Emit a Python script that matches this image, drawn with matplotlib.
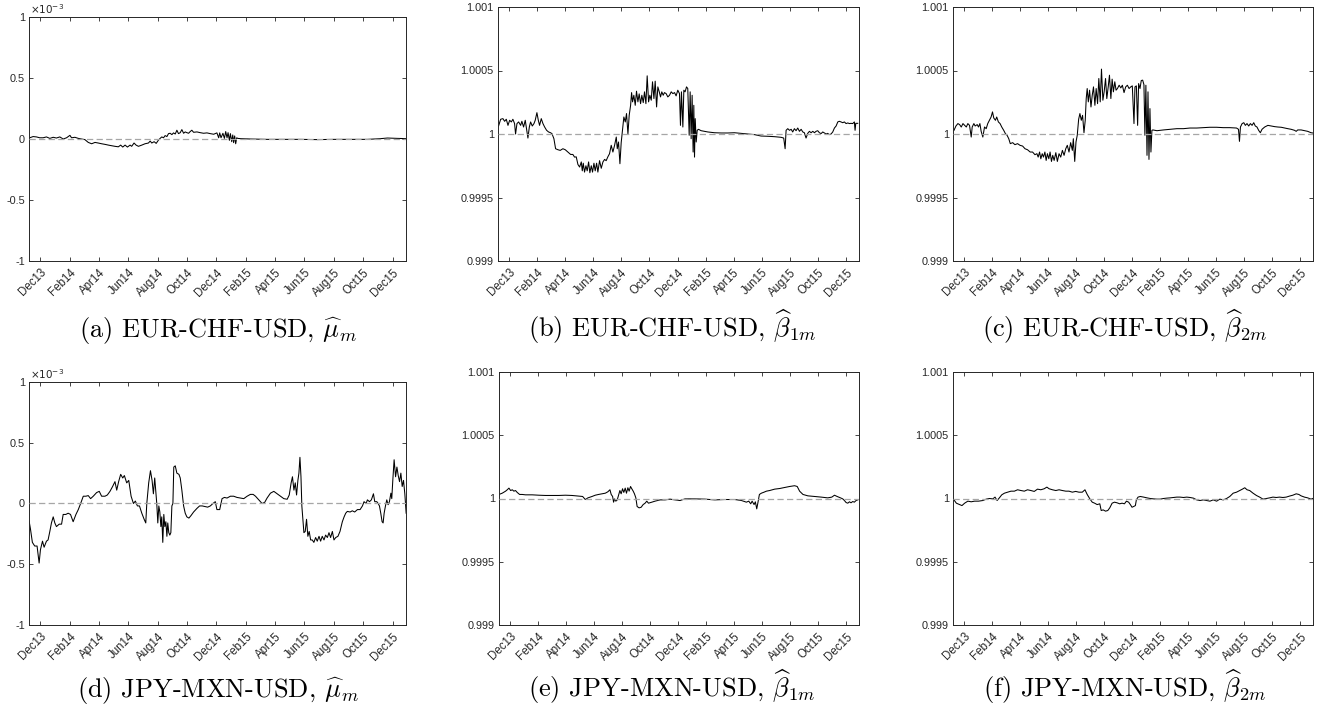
import numpy as np
import matplotlib
matplotlib.use('Agg')
import matplotlib.pyplot as plt

plt.rcParams['font.family'] = ['Liberation Sans', 'DejaVu Sans']
plt.rcParams['mathtext.fontset'] = 'cm'
plt.rcParams['lines.scale_dashes'] = False

# time axis: months counted from 1 Dec 2013
month_ticks = [0, 2, 4, 6, 8, 10, 12, 14, 16, 18, 20, 22, 24]
month_labels = ['Dec13', 'Feb14', 'Apr14', 'Jun14', 'Aug14', 'Oct14', 'Dec14',
                'Feb15', 'Apr15', 'Jun15', 'Aug15', 'Oct15', 'Dec15']

# mu estimates, in units of 1e-3
mu_eur_t = [-0.73, -0.50, -0.27, -0.05, 0.18, 0.41, 0.64, 0.87, 1.09, 1.32, 1.55, 1.78, 2.01, 2.12, 2.35,
            2.58, 2.80, 3.03, 3.26, 3.49, 3.72, 3.94, 4.17, 4.40, 4.63, 4.85, 5.08, 5.31, 5.47, 5.61,
            5.77, 5.93, 6.11, 6.22, 6.38, 6.52, 6.68, 6.91, 7.13, 7.36, 7.48, 7.59, 7.75, 7.89, 8.05,
            8.16, 8.27, 8.39, 8.50, 8.62, 8.73, 8.84, 8.96, 9.07, 9.19, 9.30, 9.41, 9.53, 9.64, 9.76,
            9.87, 9.98, 10.10, 10.21, 10.32, 10.44, 10.67, 10.89, 11.12, 11.35, 11.58, 11.81, 12.03,
            12.15, 12.22, 12.31, 12.44, 12.54, 12.63, 12.72, 12.79, 12.88, 12.95, 13.04, 13.11, 13.17,
            13.24, 13.31, 13.38, 13.45, 13.63, 14.31, 15.45, 16.59, 17.73, 18.87, 20.01, 21.15, 22.29,
            23.20, 23.66, 24.34, 24.93]
mu_eur_v = [0.01, 0.02, 0.017, 0.01, 0.01, 0.017, 0.005, 0.014, 0.008, 0.017, 0, 0.01, 0.03, 0.01, 0.014,
            0.005, 0, -0.005, -0.028, -0.039, -0.028, -0.033, -0.039, -0.044, -0.05, -0.055, -0.06, -0.064,
            -0.05, -0.066, -0.05, -0.066, -0.05, -0.06, -0.033, -0.05, -0.06, -0.05, -0.039, -0.033,
            -0.017, -0.033, -0.022, -0.036, -0.008, 0.005, 0.017, 0.01, 0.028, 0.02, 0.044, 0.047,
            0.036, 0.05, 0.041, 0.072, 0.044, 0.052, 0.077, 0.047, 0.058, 0.052, 0.047, 0.061, 0.072,
            0.055, 0.058, 0.052, 0.047, 0.05, 0.044, 0.039, 0.05, 0.01, 0.05, 0.01, 0.047, 0.005, 0.061,
            0.01, 0.052, -0.011, 0.044, -0.022, 0.033, -0.03, 0.025, -0.039, 0.01, 0.005, 0.003, 0,
            -0.003, -0.003, -0.003, -0.005, -0.003, -0.003, -0.003, 0.003, 0.008, 0.005, 0.003]

mu_jpy_t = [-0.77, -0.68, -0.55, -0.39, -0.23, -0.09, 0, 0.14, 0.25, 0.41, 0.52, 0.64, 0.75, 0.87, 0.98,
            1.09, 1.28, 1.44, 1.55, 1.73, 1.89, 2.05, 2.23, 2.42, 2.58, 2.74, 2.92, 3.10, 3.26, 3.42,
            3.60, 3.83, 4.01, 4.17, 4.40, 4.56, 4.74, 4.92, 5.08, 5.20, 5.33, 5.47, 5.61, 5.72, 5.88,
            6.02, 6.18, 6.34, 6.47, 6.61, 6.75, 6.91, 7.07, 7.18, 7.25, 7.38, 7.50, 7.61, 7.70, 7.79,
            7.86, 7.93, 8.00, 8.07, 8.14, 8.21, 8.27, 8.34, 8.41, 8.48, 8.55, 8.62, 8.68, 8.75, 8.82,
            8.89, 8.96, 9.03, 9.09, 9.19, 9.30, 9.44, 9.53, 9.64, 9.76, 9.87, 9.98, 10.12, 10.26, 10.44,
            10.67, 10.85, 11.03, 11.21, 11.40, 11.58, 11.76, 11.92, 12.03, 12.22, 12.38, 12.54, 12.72,
            12.95, 13.17, 13.40, 13.63, 13.86, 14.09, 14.31, 14.50, 14.66, 14.88, 15.11, 15.29, 15.45,
            15.68, 15.91, 16.14, 16.36, 16.59, 16.82, 16.96, 17.09, 17.18, 17.28, 17.37, 17.46, 17.55,
            17.62, 17.69, 17.76, 17.82, 17.89, 17.96, 18.05, 18.14, 18.23, 18.32, 18.42, 18.53, 18.64,
            18.76, 18.87, 18.99, 19.10, 19.21, 19.33, 19.44, 19.56, 19.67, 19.78, 19.90, 20.01, 20.13,
            20.28, 20.42, 20.58, 20.70, 20.81, 20.92, 21.11, 21.26, 21.42, 21.61, 21.79, 21.95, 22.06,
            22.20, 22.29, 22.43, 22.56, 22.70, 22.79, 22.93, 23.02, 23.11, 23.20, 23.29, 23.36, 23.43,
            23.52, 23.61, 23.70, 23.79, 23.89, 23.95, 24.02, 24.11, 24.21, 24.30, 24.39, 24.48, 24.57,
            24.66, 24.75, 24.84, 24.93]
mu_jpy_v = [-0.147, -0.21, -0.32, -0.35, -0.35, -0.49, -0.38, -0.31, -0.36, -0.31, -0.30, -0.23, -0.16,
            -0.11, -0.16, -0.19, -0.17, -0.17, -0.09, -0.09, -0.08, -0.09, -0.15, -0.09, -0.05, 0, 0.06,
            0.06, 0.065, 0.04, 0.06, 0.09, 0.10, 0.06, 0.06, 0.07, 0.10, 0.14, 0.18, 0.11, 0.18, 0.24,
            0.21, 0.23, 0.17, 0.19, 0.06, 0, 0.02, -0.02, -0.02, -0.08, -0.13, -0.16, 0, 0.17, 0.27, 0.19,
            0.08, 0.21, 0.11, 0, -0.16, -0.02, -0.07, -0.19, -0.11, -0.32, -0.09, -0.19, -0.15, -0.27,
            -0.16, -0.24, -0.26, -0.24, -0.02, 0, 0.30, 0.31, 0.25, 0.24, 0.21, 0.11, -0.02, -0.08, -0.11,
            -0.12, -0.10, -0.07, -0.04, -0.02, -0.02, -0.025, -0.03, -0.02, 0, 0.015, -0.05, -0.05, 0.04,
            0.05, 0.045, 0.06, 0.06, 0.05, 0.045, 0.04, 0.06, 0.075, 0.075, 0.06, 0.03, 0, 0.01, 0.045,
            0.085, 0.10, 0.08, 0.06, 0.04, 0.035, 0.07, 0.17, 0.22, 0.11, 0.17, 0.07, 0.19, 0.25, 0.38,
            0.22, -0.02, -0.13, -0.24, -0.23, -0.13, -0.27, -0.23, -0.30, -0.30, -0.32, -0.28, -0.31,
            -0.27, -0.31, -0.27, -0.30, -0.26, -0.28, -0.24, -0.28, -0.23, -0.30, -0.28, -0.27, -0.23,
            -0.15, -0.11, -0.08, -0.065, -0.07, -0.06, -0.07, -0.05, -0.05, -0.02, 0.015, 0, 0.03, 0.015,
            0.03, 0.08, 0.015, 0.015, 0, -0.02, -0.08, -0.15, -0.16, -0.08, -0.02, 0.03, -0.01, 0.015,
            0.085, 0.04, 0.19, 0.36, 0.22, 0.30, 0.23, 0.18, 0.25, 0.14, 0.19, 0.08, -0.08]

# beta estimates, stored as (beta - 1) in units of 1e-4
b1_eur_t = [-0.74, -0.59, -0.43, -0.31, -0.19, -0.07, 0.05, 0.17, 0.28, 0.40, 0.47, 0.57, 0.69, 0.83, 0.92,
            1.04, 1.16, 1.28, 1.35, 1.45, 1.54, 1.66, 1.78, 1.87, 1.99, 2.09, 2.18, 2.30, 2.42, 2.54,
            2.68, 2.82, 2.96, 3.06, 3.20, 3.32, 3.49, 3.65, 3.84, 4.01, 4.20, 4.39, 4.55, 4.67, 4.79,
            4.91, 5.03, 5.15, 5.22, 5.29, 5.38, 5.48, 5.57, 5.67, 5.76, 5.86, 5.95, 6.05, 6.14, 6.24,
            6.33, 6.45, 6.57, 6.69, 6.81, 6.92, 7.04, 7.16, 7.28, 7.40, 7.52, 7.64, 7.71, 7.80, 7.90,
            7.99, 8.09, 8.18, 8.28, 8.37, 8.47, 8.56, 8.66, 8.73, 8.80, 8.89, 8.99, 9.08, 9.18, 9.27,
            9.37, 9.46, 9.56, 9.65, 9.75, 9.84, 9.94, 10.03, 10.13, 10.22, 10.32, 10.41, 10.51, 10.60,
            10.70, 10.79, 10.88, 10.98, 11.07, 11.19, 11.31, 11.43, 11.55, 11.67, 11.79, 11.90, 12.02,
            12.14, 12.21, 12.28, 12.38, 12.45, 12.54, 12.64, 12.73, 12.83, 12.90, 12.97, 13.04, 13.11,
            13.16, 13.21, 13.26, 13.33, 13.40, 13.49, 13.68, 14.16, 14.63, 15.11, 15.58, 16.05, 16.53,
            17.00, 17.48, 17.95, 18.43, 18.90, 19.37, 19.56, 19.66, 19.73, 19.85, 19.97, 20.09, 20.20,
            20.32, 20.44, 20.56, 20.68, 20.80, 20.92, 21.03, 21.15, 21.27, 21.39, 21.51, 21.63, 21.75,
            21.86, 21.98, 22.10, 22.22, 22.34, 22.46, 22.58, 22.69, 22.81, 22.93, 23.05, 23.17, 23.29,
            23.41, 23.52, 23.64, 23.76, 23.88, 24.00, 24.12, 24.24, 24.35, 24.47, 24.59, 24.64, 24.69,
            24.83]
b1_eur_v = [0.63, 1.16, 1.21, 1.0, 1.16, 0.68, 1.08, 0.95, 1.16, 0.82, 0, 0.82, 0.95, 0.68, 1.0, 0.55,
            1.08, 0.21, -0.32, 0.55, 0.95, 0.63, 0.82, 1.08, 1.68, 1.08, 0.68, 1.21, 0.82, 0.55, 0.29,
            0.16, 0.1, 0.03, -0.37, -1.16, -1.24, -1.29, -1.16, -1.24, -1.42, -1.61, -1.61, -1.82, -1.8,
            -2.4, -2.6, -2.2, -2.9, -2.3, -3.0, -2.5, -2.9, -2.2, -3.05, -2.5, -3.0, -2.3, -2.9, -2.3,
            -3.0, -2.1, -2.7, -2.2, -2.0, -2.1, -1.8, -1.55, -0.89, -1.42, -0.89, -0.24, -1.16, -0.63,
            -2.34, -0.68, 0.42, 1.34, 0.95, 1.61, 0, 1.47, 2.26, 3.26, 2.53, 3.05, 2.26, 3.37, 2.53, 3.16,
            2.39, 3.05, 2.47, 3.32, 2.39, 4.58, 2.53, 3.05, 2.66, 4.11, 2.79, 4.16, 2.13, 3.71, 3.32,
            2.92, 3.32, 3.05, 3.26, 3.18, 2.92, 3.05, 3.32, 3.18, 3.26, 3.0, 3.45, 3.18, 0.68, 3.32, 0.55,
            3.45, 3.32, 3.71, 3.58, -0.1, 3.32, -0.37, 3.05, -1.42, 2.26, -1.82, 1.21, -0.63, 0.29, 0.37,
            0.26, 0.16, 0.1, 0.08, 0.08, 0.1, 0.05, 0, -0.05, -0.16, -0.18, -0.21, -0.26, -0.32, -1.16,
            0.29, 0.42, 0.29, 0.37, 0.16, 0.42, 0.26, 0.47, 0.21, 0.37, 0.16, 0.1, -0.32, 0.05, 0.21,
            0.1, 0.21, 0.1, 0.21, 0.26, 0.1, 0.03, 0.16, 0.08, 0, 0.05, -0.05, 0, 0.16, 0.47, 0.63, 0.95,
            1.0, 0.95, 0.89, 0.95, 0.82, 0.87, 0.82, 0.84, 0.82, 0.95, 0.29, 0.84, 0.84]

b2_eur_t = [-0.71, -0.57, -0.43, -0.31, -0.19, -0.07, 0.05, 0.17, 0.28, 0.40, 0.52, 0.59, 0.71, 0.80, 0.95,
            1.04, 1.14, 1.23, 1.35, 1.47, 1.59, 1.70, 1.82, 1.94, 2.04, 2.13, 2.25, 2.34, 2.46, 2.58,
            2.70, 2.84, 2.96, 3.08, 3.20, 3.31, 3.48, 3.64, 3.83, 4.00, 4.19, 4.36, 4.54, 4.73, 4.90,
            5.07, 5.21, 5.30, 5.40, 5.49, 5.59, 5.68, 5.78, 5.87, 5.96, 6.06, 6.15, 6.25, 6.34, 6.44,
            6.56, 6.67, 6.79, 6.91, 7.03, 7.15, 7.27, 7.38, 7.50, 7.62, 7.74, 7.81, 7.91, 8.00, 8.09,
            8.19, 8.28, 8.38, 8.47, 8.57, 8.66, 8.73, 8.80, 8.88, 8.97, 9.07, 9.16, 9.25, 9.35, 9.44,
            9.54, 9.63, 9.73, 9.82, 9.92, 10.01, 10.11, 10.20, 10.30, 10.39, 10.49, 10.58, 10.67, 10.77,
            10.86, 10.96, 11.08, 11.20, 11.31, 11.43, 11.55, 11.67, 11.79, 11.91, 12.02, 12.14, 12.21,
            12.31, 12.40, 12.47, 12.57, 12.66, 12.76, 12.85, 12.92, 12.99, 13.07, 13.14, 13.21, 13.28,
            13.35, 13.42, 13.49, 13.78, 14.25, 14.72, 15.20, 15.67, 16.14, 16.62, 17.09, 17.56, 18.04,
            18.51, 18.98, 19.46, 19.60, 19.67, 19.74, 19.86, 19.98, 20.09, 20.21, 20.33, 20.45, 20.57,
            20.69, 20.80, 20.92, 21.04, 21.16, 21.28, 21.47, 21.70, 21.94, 22.18, 22.41, 22.65, 22.89,
            23.12, 23.36, 23.60, 23.72, 23.83, 24.07, 24.31, 24.54, 24.78, 24.90]
b2_eur_v = [0.29, 0.63, 0.82, 0.74, 0.55, 0.82, 0.68, 0.55, 0.82, 0.68, -0.24, 0.55, 0.82, 0.63, 0.74,
            0.55, 0.82, 0.21, -0.24, 0.55, 0.42, 0.82, 1.08, 1.34, 1.74, 1.26, 1.08, 1.34, 0.95, 0.82,
            0.55, 0.29, 0.03, -0.1, -0.37, -0.76, -0.68, -0.84, -0.76, -0.89, -0.95, -1.16, -1.24, -1.42,
            -1.42, -1.63, -1.55, -1.82, -1.42, -1.95, -1.55, -1.82, -1.42, -2.08, -1.55, -1.95, -1.42,
            -2.16, -1.68, -2.08, -1.47, -2.16, -1.55, -1.82, -1.29, -1.68, -1.16, -0.89, -1.42, -0.68,
            -1.29, -0.37, -2.16, -0.63, -0.1, 1.16, 1.61, 1.08, 1.47, 0.1, 1.08, 2.79, 3.58, 2.53, 3.45,
            2.13, 3.05, 3.71, 2.26, 3.58, 2.39, 4.37, 2.53, 5.11, 2.66, 3.32, 4.37, 2.79, 3.71, 4.63,
            2.79, 4.32, 3.32, 4.11, 3.45, 3.58, 3.84, 3.63, 3.84, 3.26, 3.71, 3.84, 3.58, 3.71, 3.79,
            0.82, 3.71, 3.79, 0.68, 3.97, 3.58, 4.21, 4.24, 3.89, -0.1, 3.84, -1.68, 3.32, -2.0, 2.0,
            -1.42, 0.29, 0.32, 0.26, 0.32, 0.37, 0.42, 0.42, 0.47, 0.47, 0.5, 0.53, 0.53, 0.5, 0.5, 0.47,
            0.37, -0.58, 0.55, 0.82, 0.89, 0.68, 0.82, 0.63, 0.82, 0.68, 0.89, 0.63, 0.55, 0.29, 0.1,
            0.37, 0.55, 0.68, 0.63, 0.58, 0.55, 0.53, 0.47, 0.42, 0.37, 0.29, 0.21, 0.32, 0.32, 0.26,
            0.21, 0.1, 0.08]

b1_jpy_t = [-0.78, -0.55, -0.31, -0.19, -0.07, 0.05, 0.17, 0.28, 0.40, 0.52, 0.69, 0.88, 1.11, 1.59, 2.06,
            2.54, 3.01, 3.49, 3.96, 4.43, 4.91, 5.19, 5.38, 5.57, 5.86, 6.09, 6.33, 6.57, 6.81, 6.99,
            7.14, 7.23, 7.33, 7.40, 7.47, 7.56, 7.66, 7.75, 7.85, 7.94, 8.04, 8.13, 8.23, 8.32, 8.42,
            8.51, 8.61, 8.70, 8.80, 8.89, 8.99, 9.08, 9.22, 9.37, 9.51, 9.65, 9.77, 9.89, 10.13, 10.36,
            10.72, 11.07, 11.43, 11.79, 12.14, 12.50, 13.21, 13.92, 14.63, 15.34, 16.05, 16.53, 16.88,
            17.05, 17.19, 17.29, 17.43, 17.52, 17.62, 17.71, 17.81, 17.95, 18.14, 18.31, 18.54, 18.90,
            19.26, 19.61, 19.97, 20.32, 20.51, 20.68, 20.92, 21.27, 21.75, 22.22, 22.69, 22.98, 23.17,
            23.36, 23.60, 23.76, 23.88, 24.00, 24.12, 24.24, 24.35, 24.47, 24.59, 24.71, 24.83]
b1_jpy_v = [0.32, 0.42, 0.58, 0.69, 0.82, 0.63, 0.69, 0.58, 0.63, 0.48, 0.32, 0.32, 0.29, 0.29, 0.26,
            0.24, 0.24, 0.24, 0.26, 0.24, 0.19, 0.16, -0.08, 0.05, 0.16, 0.26, 0.32, 0.37, 0.42, 0.53,
            0.69, 0.32, 0.16, -0.29, -0.03, -0.21, -0.11, 0.24, 0.63, 0.37, 0.77, 0.48, 0.82, 0.42, 0.85,
            0.58, 0.95, 0.77, 0.58, 0.37, 0.05, -0.63, -0.74, -0.69, -0.48, -0.37, -0.21, -0.37, -0.29,
            -0.21, -0.11, -0.11, -0.05, -0.11, -0.16, -0.03, -0.03, -0.05, -0.11, -0.08, -0.08, -0.16,
            -0.29, -0.21, -0.42, -0.21, -0.48, -0.26, -0.82, -0.29, 0.32, 0.42, 0.50, 0.58, 0.63, 0.74,
            0.79, 0.87, 0.95, 1.01, 0.95, 0.58, 0.32, 0.21, 0.16, 0.11, 0.05, 0.11, 0.26, 0.16, 0.05,
            -0.03, -0.16, -0.32, -0.37, -0.26, -0.34, -0.24, -0.29, -0.16, -0.11]

b2_jpy_t = [-0.71, -0.54, -0.31, -0.14, 0.05, 0.28, 0.52, 0.76, 1.04, 1.35, 1.59, 1.82, 2.06, 2.22, 2.37,
            2.53, 2.70, 2.89, 3.12, 3.36, 3.60, 3.83, 4.07, 4.31, 4.54, 4.78, 5.02, 5.25, 5.49, 5.73,
            5.92, 6.08, 6.32, 6.56, 6.79, 7.03, 7.27, 7.50, 7.74, 7.98, 8.21, 8.45, 8.64, 8.80, 8.99,
            9.16, 9.33, 9.51, 9.70, 9.80, 9.94, 10.11, 10.27, 10.41, 10.58, 10.75, 10.93, 11.12, 11.29,
            11.46, 11.60, 11.76, 11.88, 12.00, 12.12, 12.24, 12.31, 12.43, 12.59, 12.83, 13.07, 13.30,
            13.54, 13.78, 14.01, 14.25, 14.49, 14.72, 14.96, 15.20, 15.43, 15.67, 15.91, 16.14, 16.38,
            16.62, 16.85, 17.09, 17.33, 17.56, 17.80, 18.04, 18.27, 18.51, 18.75, 18.98, 19.22, 19.46,
            19.69, 19.88, 20.05, 20.21, 20.40, 20.64, 20.88, 21.11, 21.35, 21.59, 21.82, 22.06, 22.30,
            22.53, 22.77, 23.01, 23.24, 23.48, 23.72, 23.91, 24.07, 24.31, 24.54, 24.78, 24.90]
b2_jpy_v = [-0.11, -0.37, -0.48, -0.56, -0.37, -0.21, -0.26, -0.21, -0.21, -0.16, -0.05, 0, -0.03, 0.11,
            -0.16, 0.05, 0.29, 0.42, 0.50, 0.58, 0.58, 0.69, 0.63, 0.58, 0.69, 0.63, 0.56, 0.74, 0.69,
            0.77, 0.90, 0.77, 0.69, 0.63, 0.69, 0.63, 0.58, 0.58, 0.50, 0.56, 0.50, 0.50, 0.69, 0.32,
            -0.03, -0.29, -0.37, -0.48, -0.42, -0.95, -0.90, -1.0, -0.95, -0.74, -0.37, -0.29, -0.34,
            -0.42, -0.37, -0.42, -0.21, -0.29, -0.48, -0.69, -0.63, -0.56, -0.11, 0.11, 0.16, 0.11, 0.05,
            0, -0.03, -0.05, -0.05, 0, 0.03, 0.05, 0.08, 0.11, 0.11, 0.08, 0.11, 0.08, 0.03, -0.11, -0.16,
            -0.11, -0.16, -0.21, -0.11, -0.21, -0.05, -0.11, 0, 0.16, 0.42, 0.50, 0.63, 0.74, 0.85, 0.69,
            0.63, 0.42, 0.24, 0.11, -0.05, 0, 0.05, 0.11, 0.08, 0.11, 0.08, 0.11, 0.19, 0.26, 0.37, 0.32,
            0.21, 0.11, 0.05, -0.05, 0]

captions = [r'(a) EUR-CHF-USD, $\widehat{\mu}_m$',
            r'(b) EUR-CHF-USD, $\widehat{\beta}_{1m}$',
            r'(c) EUR-CHF-USD, $\widehat{\beta}_{2m}$',
            r'(d) JPY-MXN-USD, $\widehat{\mu}_m$',
            r'(e) JPY-MXN-USD, $\widehat{\beta}_{1m}$',
            r'(f) JPY-MXN-USD, $\widehat{\beta}_{2m}$']

W, H = 1328, 709
AXC = '#262626'


def box(l, t, r, b):
    return [l / W, 1 - b / H, (r - l) / W, (b - t) / H]


fig = plt.figure(figsize=(W / 100, H / 100), dpi=100)

# (series times, values, kind, axes box in pixels, caption centre x, caption baseline y)
panels = [
    (mu_eur_t, mu_eur_v, 'mu', box(29, 17, 406, 261), 218, 337),
    (b1_eur_t, b1_eur_v, 'beta', box(498, 7, 859, 261), 672, 337),
    (b2_eur_t, b2_eur_v, 'beta', box(953, 7, 1313, 261), 1125, 337),
    (mu_jpy_t, mu_jpy_v, 'mu', box(29, 382, 406, 625), 218, 697),
    (b1_jpy_t, b1_jpy_v, 'beta', box(499, 372, 859, 625), 672, 697),
    (b2_jpy_t, b2_jpy_v, 'beta', box(953, 372, 1313, 625), 1125, 697),
]

for (t, v, kind, rect, cx, cy), cap in zip(panels, captions):
    ax = fig.add_axes(rect)
    t = np.array(t)
    v = np.array(v)
    if kind == 'mu':
        y = v
        ref = 0
        yt = [-1, -0.5, 0, 0.5, 1]
        ylab = ['-1', '-0.5', '0', '0.5', '1']
        ax.set_ylim(-1, 1)
        ax.text(0.003, 1.005, r'$\times10^{-3}$', transform=ax.transAxes, ha='left', va='bottom',
                fontsize=7.5, color=AXC, math_fontfamily='dejavusans')
    else:
        y = 1 + v * 1e-4
        ref = 1
        yt = [0.999, 0.9995, 1, 1.0005, 1.001]
        ylab = ['0.999', '0.9995', '1', '1.0005', '1.001']
        ax.set_ylim(0.999, 1.001)
    ax.plot(t, y, color='k', lw=0.75, zorder=2)
    ax.axhline(ref, color='#a6a6a6', lw=0.9, dashes=(4.5, 2.4), zorder=3)
    ax.set_xlim(-0.78, 24.92)
    ax.set_xticks(month_ticks)
    ax.set_xticklabels(month_labels, rotation=45, ha='right', va='top', rotation_mode='anchor',
                       fontsize=8.3, color=AXC)
    ax.set_yticks(yt)
    ax.set_yticklabels(ylab, fontsize=7.8, color=AXC)
    ax.tick_params(direction='in', top=True, right=True, length=3, width=0.6, color=AXC, pad=3)
    ax.tick_params(axis='x', pad=4)
    for s in ax.spines.values():
        s.set_color(AXC)
        s.set_linewidth(0.7)
    fig.text(cx / W, 1 - cy / H, cap, ha='center', va='baseline', fontsize=19,
             fontfamily='cmr10', math_fontfamily='cm')

fig.savefig('out.png', dpi=100)
